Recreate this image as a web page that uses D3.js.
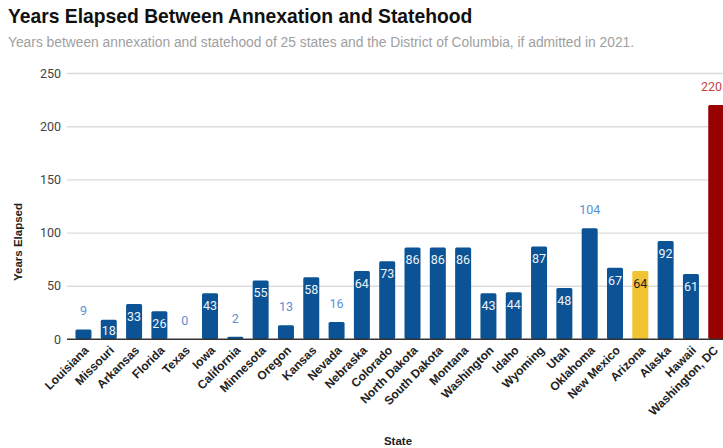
<!DOCTYPE html>
<html>
<head>
<meta charset="utf-8">
<script src="https://cdn.jsdelivr.net/npm/d3@7"></script>
<style>
  body { margin: 0; background: #fff; }
  svg { display: block; font-family: "Liberation Sans", Arial, sans-serif; }
</style>
</head>
<body>
<svg id="chart"></svg>
<script>
// data
const states = ["Louisiana", "Missouri", "Arkansas", "Florida", "Texas", "Iowa", "California",
  "Minnesota", "Oregon", "Kansas", "Nevada", "Nebraska", "Colorado", "North Dakota",
  "South Dakota", "Montana", "Washington", "Idaho", "Wyoming", "Utah", "Oklahoma",
  "New Mexico", "Arizona", "Alaska", "Hawaii", "Washington, DC"];
const years = [9, 18, 33, 26, 0, 43, 2, 55, 13, 58, 16, 64, 73, 86, 86, 86, 43, 44, 87, 48, 104, 67, 64, 92, 61, 220];
const yTicks = [0, 50, 100, 150, 200, 250];
// labels that sit above the bar instead of inside
const outside = ["Louisiana", "Texas", "California", "Oregon", "Nevada", "Oklahoma", "Washington, DC"];

let width = 723, height = 448;
let margin = { top: 73, right: 0, bottom: 109, left: 67 };

let svg = d3.select('#chart').attr('width', width).attr('height', height);

// the plot runs a little past the right edge, like the reference
let x = d3.scaleBand()
  .domain(states)
  .range([70.4, 729.3])
  .paddingInner(0.368)
  .paddingOuter(0.2);

let y = d3.scaleLinear()
  .domain([0, 250])
  .range([height - margin.bottom, margin.top]);

function barColor(s) {
  if (s === "Arizona") return '#f1c232';
  if (s === "Washington, DC") return '#990000';
  return '#0b5394';
}

// title + subtitle
svg.append('text')
  .attr('x', 8).attr('y', 23)
  .attr('font-size', 19.3).attr('font-weight', 'bold').attr('fill', '#111')
  .text('Years Elapsed Between Annexation and Statehood');
svg.append('text')
  .attr('x', 8).attr('y', 47)
  .attr('font-size', 13.8).attr('fill', '#a0a0a0')
  .text('Years between annexation and statehood of 25 states and the District of Columbia, if admitted in 2021.');

// gridlines and y tick labels
let yAxis = d3.axisLeft(y).tickValues(yTicks).tickSize(-(width - margin.left)).tickPadding(6);
svg.append('g')
  .attr('class', 'yAxis')
  .attr('transform', `translate(${margin.left},0)`)
  .call(yAxis)
  .call(g => g.select('.domain').remove())
  .call(g => g.selectAll('line').attr('stroke', d => d === 0 ? '#333' : '#dcdcdc').attr('stroke-width', d => d === 0 ? 1 : 1.4))
  .call(g => g.selectAll('text').attr('font-size', 12.5).attr('fill', '#444')
    .attr('font-family', 'Roboto, sans-serif'));

// bars
svg.append('g')
  .selectAll('rect')
  .data(states)
  .enter()
  .append('rect')
  .attr('x', d => x(d))
  .attr('y', (d, i) => y(years[i]))
  .attr('width', x.bandwidth())
  .attr('height', (d, i) => y(0) - y(years[i]))
  .attr('rx', 1.5)
  .attr('fill', d => barColor(d));

// redraw zero line on top
svg.append('line')
  .attr('x1', margin.left).attr('x2', width)
  .attr('y1', y(0)).attr('y2', y(0))
  .attr('stroke', '#333').attr('stroke-width', 1);

// value labels
let last = states[states.length - 1];
svg.append('g')
  .selectAll('text')
  .data(states)
  .enter()
  .append('text')
  .attr('x', d => d === last ? width - 1 : x(d) + x.bandwidth() / 2)
  .attr('y', (d, i) => {
    if (outside.includes(d)) return y(years[i]) - 14;
    return Math.min(y(years[i]) + 17, y(0) - 4);
  })
  .attr('text-anchor', d => d === last ? 'end' : 'middle')
  .attr('font-family', 'Roboto, sans-serif')
  .attr('font-size', 12.5)
  .attr('fill', d => {
    if (d === last) return '#c2464a';
    if (outside.includes(d)) return '#5b8fd6';
    if (d === "Arizona") return '#222';
    return '#eef3fa';
  })
  .text((d, i) => years[i]);

// x labels
svg.append('g')
  .selectAll('text')
  .data(states)
  .enter()
  .append('text')
  .attr('transform', d => `translate(${Math.min(x(d) + x.bandwidth() / 2 + 6, width - 4)},${y(0) + 12}) rotate(-45)`)
  .attr('text-anchor', 'end')
  .attr('font-size', 12)
  .attr('font-weight', 'bold')
  .attr('fill', '#222')
  .text(d => d);

// axis titles
svg.append('text')
  .attr('transform', 'translate(22,242) rotate(-90)')
  .attr('text-anchor', 'middle')
  .attr('font-size', 11.5).attr('font-weight', 'bold').attr('fill', '#222')
  .text('Years Elapsed');
svg.append('text')
  .attr('x', 398).attr('y', 445)
  .attr('text-anchor', 'middle')
  .attr('font-size', 11.5).attr('font-weight', 'bold').attr('fill', '#222')
  .text('State');
</script>
</body>
</html>
